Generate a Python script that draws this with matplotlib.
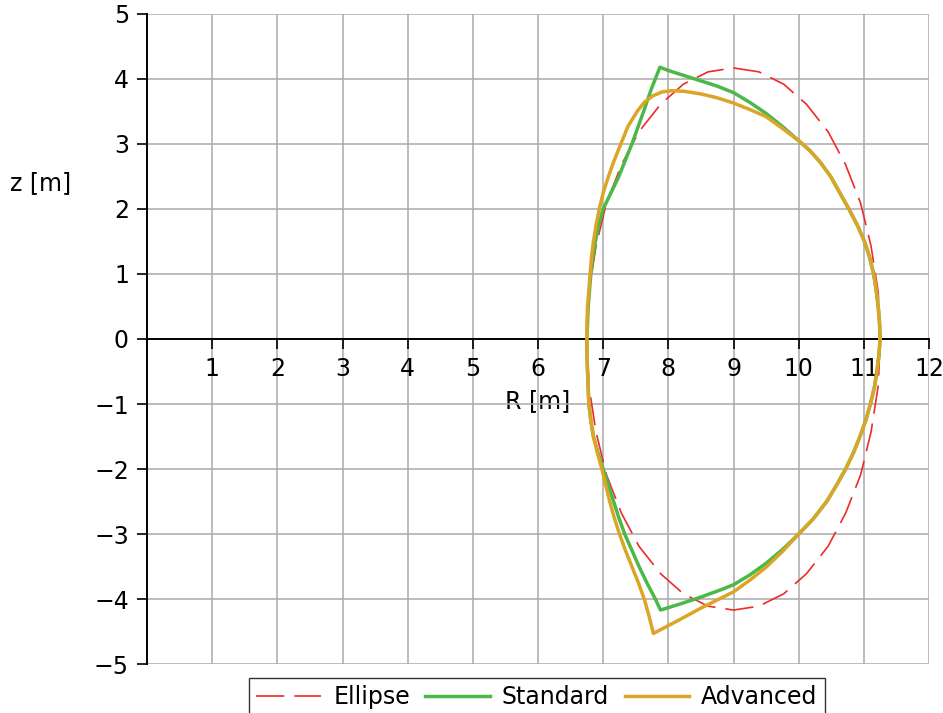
import matplotlib
matplotlib.use("Agg")
import matplotlib.pyplot as plt

# plasma cross sections, R (major radius) and z (height), in metres
ellipse_r = [11.25, 11.22, 11.11, 10.95, 10.72, 10.45, 10.12, 9.77, 9.39, 9.0,
             8.61, 8.23, 7.88, 7.55, 7.28, 7.05, 6.89, 6.78, 6.75,
             6.78, 6.89, 7.05, 7.28, 7.55, 7.88, 8.23, 8.61, 9.0,
             9.39, 9.77, 10.12, 10.45, 10.72, 10.95, 11.11, 11.22, 11.25]
ellipse_z = [0.0, 0.72, 1.43, 2.09, 2.68, 3.19, 3.61, 3.92, 4.11, 4.17,
             4.11, 3.92, 3.61, 3.19, 2.68, 2.09, 1.43, 0.72, 0.0,
             -0.72, -1.43, -2.09, -2.68, -3.19, -3.61, -3.92, -4.11, -4.17,
             -4.11, -3.92, -3.61, -3.19, -2.68, -2.09, -1.43, -0.72, 0.0]

standard_r = [11.25, 11.24, 11.22, 11.19, 11.15, 11.09, 11.01, 10.90, 10.77, 10.63,
              10.49, 10.33, 10.17, 10.0, 9.75, 9.5, 9.25, 9.0, 8.75, 8.5, 8.25,
              8.0, 7.87,
              7.74, 7.62, 7.53, 7.44, 7.34, 7.24, 7.12, 7.0, 6.93, 6.88, 6.84,
              6.81, 6.79, 6.77, 6.76, 6.75,
              6.75, 6.76, 6.77, 6.78, 6.81, 6.85, 6.92, 7.0, 7.08, 7.16,
              7.24, 7.33, 7.44, 7.55, 7.67, 7.80, 7.88,
              8.2, 8.5, 8.8, 9.0, 9.25, 9.5, 9.75, 10.0, 10.22, 10.43,
              10.58, 10.72, 10.84, 10.94, 11.03, 11.10, 11.16, 11.20, 11.23, 11.25]
standard_z = [0.0, 0.25, 0.5, 0.75, 1.0, 1.25, 1.5, 1.75, 2.0, 2.25,
              2.5, 2.72, 2.9, 3.05, 3.27, 3.47, 3.64, 3.79, 3.89, 3.97, 4.05,
              4.13, 4.18,
              3.85, 3.5, 3.25, 3.0, 2.75, 2.5, 2.25, 2.0, 1.75, 1.5, 1.25,
              1.0, 0.75, 0.5, 0.25, 0.0,
              -0.25, -0.5, -0.75, -1.0, -1.25, -1.5, -1.75, -2.0, -2.25, -2.5,
              -2.75, -3.0, -3.25, -3.5, -3.75, -4.0, -4.17,
              -4.07, -3.97, -3.86, -3.78, -3.63, -3.45, -3.24, -3.0, -2.77, -2.5,
              -2.25, -2.0, -1.75, -1.5, -1.25, -1.0, -0.75, -0.5, -0.25, 0.0]

advanced_r = [11.25, 11.24, 11.22, 11.19, 11.15, 11.09, 11.01, 10.90, 10.77, 10.63,
              10.49, 10.33, 10.17, 10.0, 9.75, 9.5, 9.25, 9.0, 8.75, 8.5, 8.25,
              8.05, 7.9, 7.76, 7.63, 7.52, 7.38, 7.27, 7.17, 7.08, 7.0, 6.94,
              6.89, 6.85, 6.82, 6.80, 6.78, 6.76, 6.75, 6.75,
              6.75, 6.76, 6.77, 6.78, 6.81, 6.85, 6.91, 6.98, 7.04, 7.10,
              7.17, 7.25, 7.34, 7.44, 7.54, 7.63, 7.70, 7.77,
              8.15, 8.5, 8.8, 9.0, 9.25, 9.5, 9.75, 10.0, 10.22, 10.43,
              10.58, 10.72, 10.84, 10.94, 11.03, 11.10, 11.16, 11.20, 11.23, 11.25]
advanced_z = [0.0, 0.25, 0.5, 0.75, 1.0, 1.25, 1.5, 1.75, 2.0, 2.25,
              2.5, 2.72, 2.9, 3.05, 3.24, 3.42, 3.53, 3.63, 3.71, 3.77, 3.81,
              3.82, 3.80, 3.74, 3.64, 3.5, 3.27, 3.0, 2.75, 2.5, 2.25, 2.0,
              1.75, 1.5, 1.25, 1.0, 0.75, 0.5, 0.25, 0.0,
              -0.25, -0.5, -0.75, -1.0, -1.25, -1.5, -1.75, -2.0, -2.25, -2.5,
              -2.75, -3.0, -3.25, -3.5, -3.75, -4.0, -4.25, -4.53,
              -4.33, -4.14, -3.99, -3.89, -3.71, -3.51, -3.27, -3.0, -2.77, -2.5,
              -2.25, -2.0, -1.75, -1.5, -1.25, -1.0, -0.75, -0.5, -0.25, 0.0]

x_ticks = list(range(1, 13))
y_ticks = list(range(-5, 6))

fig = plt.figure(figsize=(9.43, 7.13), dpi=100)
ax = fig.add_axes([0.1559, 0.0687, 0.8293, 0.9117])

ax.plot(ellipse_r, ellipse_z, color="#ee2a2a", lw=1.2, dashes=(17, 6),
        label="Ellipse", zorder=3)
ax.plot(standard_r, standard_z, color="#4cb848", lw=2.5, label="Standard", zorder=3)
ax.plot(advanced_r, advanced_z, color="#dba527", lw=2.5, label="Advanced", zorder=4)

ax.set_xlim(0, 12)
ax.set_ylim(-5, 5)
ax.set_xticks(x_ticks)
ax.set_yticks(y_ticks)
ax.grid(True, color="#aaaaaa", lw=1.1)
ax.set_axisbelow(True)

ax.spines["left"].set_position(("data", 0))
ax.spines["bottom"].set_position(("data", 0))
ax.spines["top"].set_visible(False)
ax.spines["right"].set_visible(False)
for s in ("left", "bottom"):
    ax.spines[s].set_linewidth(1.4)
    ax.spines[s].set_zorder(2.5)

ax.tick_params(axis="both", direction="out", length=7, width=1.2, labelsize=17)
ax.tick_params(axis="x", pad=6)
ax.tick_params(axis="y", pad=6)

ax.set_xlabel("R [m]", fontsize=17, va="center")
ax.xaxis.set_label_coords(0.499, 0.405)
ax.set_ylabel("z [m]", fontsize=17, rotation=0, ha="center", va="center")
ax.yaxis.set_label_coords(-0.1355, 0.74)

leg = fig.legend(loc="upper center", bbox_to_anchor=(0.5695, 0.049), ncol=3,
                 fontsize=17, frameon=True, fancybox=False, handlelength=2.75,
                 handletextpad=0.5, columnspacing=0.65, borderpad=0.3,
                 borderaxespad=0)
leg.get_frame().set_edgecolor("black")
leg.get_frame().set_linewidth(1.0)

fig.savefig("out.png", dpi=100)
